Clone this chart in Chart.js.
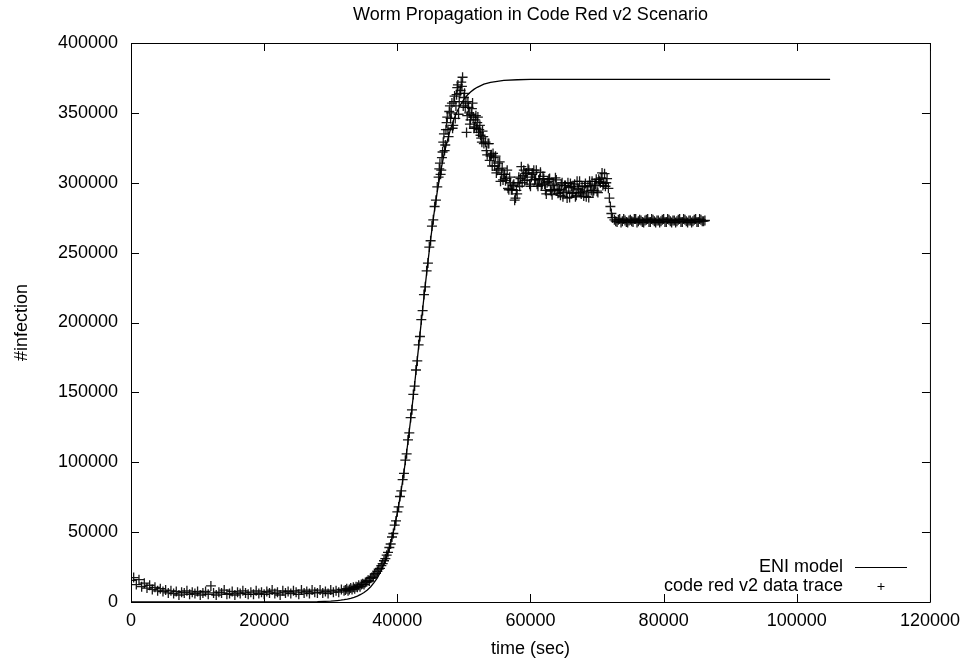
<!DOCTYPE html>
<html>
<head>
<meta charset="utf-8">
<title>Worm Propagation in Code Red v2 Scenario</title>
<script src="https://cdn.jsdelivr.net/npm/chart.js@4.4.1/dist/chart.umd.min.js"></script>
<style>
  html, body { margin: 0; padding: 0; background: #fff; }
  #wrap { width: 968px; height: 662px; }
</style>
</head>
<body>
<div id="wrap"><canvas id="chart" width="968" height="662"></canvas></div>
<script>
const chartTitle = "Worm Propagation in Code Red v2 Scenario";
const xTitle = "time (sec)";
const yTitle = "#infection";
const modelLabel = "ENI model";
const traceLabel = "code red v2 data trace";

const xTicks = [0, 20000, 40000, 60000, 80000, 100000, 120000];
const yTicks = [0, 50000, 100000, 150000, 200000, 250000, 300000, 350000, 400000];

// ENI model curve
const modelTime = [
  0, 5000, 10000, 15000, 20000, 25000, 28000, 30000, 30500, 31000, 31500,
  32000, 32500, 33000, 33500, 34000, 34500, 35000, 35500, 36000, 36500,
  37000, 37500, 38000, 38500, 39000, 39500, 40000, 40500, 41000, 41500,
  42000, 42500, 43000, 43500, 44000, 44500, 45000, 45500, 46000, 46500,
  47000, 47500, 48000, 48500, 49000, 49500, 50000, 50500, 51000, 51500,
  52000, 53000, 54000, 55000, 56000, 58000, 60000, 65000, 105000
];
const modelCount = [
  0, 0, 0, 0, 0, 60, 240, 630, 800, 1020, 1290,
  1640, 2090, 2650, 3360, 4260, 5400, 6830, 8640, 10900, 13800,
  17300, 21800, 27200, 34000, 42100, 52000, 63700, 77400, 93100, 110900,
  130500, 151500, 173600, 196000, 218100, 239400, 259400, 277500, 293600, 307800,
  319900, 330000, 338500, 345500, 351200, 355900, 359600, 362600, 364900, 366800,
  368300, 370500, 371800, 372600, 373200, 373700, 373900, 374000, 374000
];

// code red v2 trace: quiet phase, outbreak, peak, decay, flat tail
const traceTime = [
  0, 400, 800, 1200, 1600, 2000, 2400, 2800, 3200, 3600, 4000, 4400, 4800, 5200,
  5600, 6000, 6400, 6800, 7200, 7600, 8000, 8400, 8800, 9200, 9600, 10000, 10400,
  10800, 11200, 11600, 12000, 12400, 12800, 13200, 13600, 14000, 14400, 14800,
  15200, 15600, 16000, 16400, 16800, 17200, 17600, 18000, 18400, 18800, 19200,
  19600, 20000, 20400, 20800, 21200, 21600, 22000, 22400, 22800, 23200, 23600,
  24000, 24400, 24800, 25200, 25600, 26000, 26400, 26800, 27200, 27600, 28000,
  28400, 28800, 29200, 29600, 30000, 30400, 30800, 31200, 31600, 32000,
  32200, 32400, 32600, 32800, 33000, 33200, 33400, 33600, 33800, 34000, 34200,
  34400, 34600, 34800, 35000, 35200, 35400, 35600, 35800, 36000, 36200, 36400,
  36600, 36800, 37000, 37200, 37400, 37600, 37800, 38000, 38200, 38400, 38600,
  38800, 39000, 39200, 39400, 39600, 39800, 40000, 40200, 40400, 40600, 40800,
  41000, 41200, 41400, 41600, 41800, 42000, 42200, 42400, 42600, 42800, 43000,
  43200, 43400, 43600, 43800, 44000, 44200, 44400, 44600, 44800, 45000, 45200,
  45400, 45600, 45800, 46000,
  46200, 46400, 46600, 46800, 47000, 47200, 47400, 47600, 47800, 48000, 48200,
  48400, 48600, 48800, 49000, 49200, 49400, 49600, 49800, 50000, 50200, 50400,
  50600, 50800, 51000, 51200, 51400, 51600, 51800, 52000, 52200, 52400, 52600,
  52800, 53000,
  53250, 53500, 53750, 54000, 54250, 54500, 54750, 55000, 55250, 55500, 55750,
  56000, 56250, 56500, 56750, 57000, 57250, 57500, 57750, 58000, 58250, 58500,
  58750, 59000, 59250, 59500, 59750, 60000, 60250, 60500, 60750, 61000, 61250,
  61500, 61750, 62000, 62250, 62500, 62750, 63000, 63250, 63500, 63750, 64000,
  64250, 64500, 64750, 65000, 65250, 65500, 65750, 66000, 66250, 66500, 66750,
  67000, 67250, 67500, 67750, 68000, 68250, 68500, 68750, 69000, 69250, 69500,
  69750, 70000, 70250, 70500, 70750, 71000, 71250, 71500,
  71700, 71850, 72000, 72150, 72300,
  72600, 73000, 73400, 73800, 74200, 74600, 75000, 75400, 75800, 76200, 76600,
  77000, 77400, 77800, 78200, 78600, 79000, 79400, 79800, 80200, 80600, 81000,
  81400, 81800, 82200, 82600, 83000, 83400, 83800, 84200, 84600, 85000, 85400,
  85800, 86200
];
const traceCount = [
  15500, 17500, 12500, 16000, 11000, 13500, 10000, 12000, 9000, 10500, 8000, 9500, 7500, 8500,
  6500, 8000, 6000, 7500, 5000, 7000, 6500, 8000, 5500, 7000, 6000, 7500, 5000,
  6500, 7500, 5500, 11500, 6500, 5000, 7000, 6500, 8500, 5500, 6000,
  7500, 5000, 7000, 6000, 8000, 6500, 5500, 7000, 5500, 8000, 6000,
  7000, 5500, 7500, 6500, 8500, 6000, 7000, 5000, 8000, 6500, 7500,
  6000, 8000, 7000, 5500, 8500, 6500, 7500, 6000, 8500, 7000, 6500,
  8500, 6500, 7500, 6000, 8500, 7000, 8000, 7000, 9000, 8000,
  8500, 9500, 8000, 9000, 10000, 9000, 10500, 9500, 11000, 10500, 12000,
  11000, 12500, 13000, 12500, 14000, 14500, 15500, 15000, 17000, 17500, 18500,
  20000, 20500, 22000, 23500, 24000, 26000, 27500, 29500, 31000, 33500, 35500,
  39000, 41500, 46500, 49000, 55000, 58000, 64500, 68000, 75500, 79500, 87500,
  92000, 101500, 106000, 116000, 121000, 132000, 137500, 148500, 154500, 166000, 172500,
  184000, 190000, 202000, 208500, 220000, 225500, 237000, 242500, 254000, 258500, 269000,
  273500, 283000, 287500, 297000,
  304000, 314000, 309000, 322000, 335000, 327000, 343000, 338000, 351000, 346000, 357000,
  341000, 362000, 355000, 368000, 349000, 364000, 372000, 375500, 361000, 354000, 336000,
  358000, 350000, 345000, 353000, 347000, 340000, 348000, 343000, 336000, 341000, 332000,
  337000, 328000,
  329000, 320000, 328000, 319000, 312000, 318000, 319000, 309000, 310000, 301000, 310500,
  306000, 301500, 309000, 295000, 300000, 295000, 299000, 289000, 292000, 304000, 303000,
  300000, 309000, 306500, 302000, 309000, 297500, 306000, 309000, 302500, 299000, 302000,
  307500, 299000, 303000, 294500, 300000, 302500, 295000, 291500, 299000, 303500, 294500,
  295500, 291000, 300000, 293000, 298000, 289000, 296500, 299500, 292500, 297000, 290000,
  301000, 295000, 293000, 297500, 290500, 299500, 294000, 289500, 298000, 301000, 294500,
  299000, 294000, 302500, 300000, 307000, 299500, 297500, 303000,
  296000, 289000, 283000, 278000, 275000,
  273500, 272000, 274000, 272500, 273000, 271500, 273500, 272000, 274000, 272500, 273000,
  271500, 273500, 272000, 274000, 272500, 273000, 271500, 273500, 272000, 274000, 272500,
  273000, 271500, 273500, 272000, 274000, 272500, 273000, 271500, 273500, 272000, 274000,
  272500, 273000
];

// extra samples in between, where the trace is dense (peak, decay, tail)
const extraTime = [
  46300, 46500, 46700, 46900, 47100, 47300, 47500, 47700, 47900, 48100, 48300,
  48500, 48700, 48900, 49100, 49300, 49500, 49700, 49900, 50100, 50300, 50500,
  50700, 50900, 51100, 51300, 51500, 51700, 51900, 52100, 52300, 52500, 52700,
  52900,
  53375, 53625, 53875, 54125, 54375, 54625, 54875, 55125, 55375, 55625, 55875,
  56125, 56375, 56625, 56875, 57125, 57375, 57625, 57875, 58125, 58375, 58625,
  58875, 59125, 59375, 59625, 59875, 60125, 60375, 60625, 60875, 61125, 61375,
  61625, 61875, 62125, 62375, 62625, 62875, 63125, 63375, 63625, 63875, 64125,
  64375, 64625, 64875, 65125, 65375, 65625, 65875, 66125, 66375, 66625, 66875,
  67125, 67375, 67625, 67875, 68125, 68375, 68625, 68875, 69125, 69375, 69625,
  69875, 70125, 70375, 70625, 70875, 71125, 71375,
  72800, 73200, 73600, 74000, 74400, 74800, 75200, 75600, 76000, 76400, 76800,
  77200, 77600, 78000, 78400, 78800, 79200, 79600, 80000, 80400, 80800, 81200,
  81600, 82000, 82400, 82800, 83200, 83600, 84000, 84400, 84800, 85200, 85600,
  86000
];
const extraCount = [
  310000, 306000, 318000, 329000, 323000, 338000, 347000, 333000, 355000, 350000, 339000,
  358000, 346000, 363000, 370000, 358000, 366000, 369000, 355000, 364000, 357000, 348000,
  354000, 342000, 349000, 357000, 339000, 345000, 339000, 347000, 338000, 334000, 329000,
  333000,
  323000, 328000, 316000, 320000, 321000, 312000, 307000, 314000, 315000, 306000, 302000,
  306000, 303000, 296000, 304000, 295000, 298000, 287500, 294500, 300000, 297500, 311500,
  305000, 301500, 307000, 310000, 299000, 304000, 307000, 302000, 309000, 297500, 303000,
  298000, 304500, 299000, 292000, 301000, 303000, 294000, 298000, 295000, 302000, 292500,
  295000, 299000, 290000, 298000, 294000, 300000, 289500, 297500, 293000, 299000, 291000,
  296000, 301000, 292000, 293500, 297500, 290000, 297000, 301000, 294500, 293000, 298000,
  302500, 293000, 301000, 303500, 298000, 306500, 300000,
  272500, 273500, 271500, 274000, 272000, 273000, 272500, 274000, 271500, 273500, 272000,
  273000, 274000, 272000, 273500, 271500, 273000, 272500, 274000, 272000, 273500, 271500,
  273000, 272500, 274000, 272000, 273500, 271500, 273000, 272500, 274000, 272000, 273500,
  272500
];

const FONT = "'Liberation Sans', Arial, Helvetica, sans-serif";
const FONT_SIZE = 18;
const TICK_LEN = 8;

// gnuplot style frame: full box, inward ticks on all four sides,
// title, axis titles and the legend in the lower right corner
const gnuplotFrame = {
  id: "gnuplotFrame",
  afterDraw(chart) {
    const ctx = chart.ctx;
    const area = chart.chartArea;
    const xs = chart.scales.x;
    const ys = chart.scales.y;
    ctx.save();
    ctx.strokeStyle = "#000";
    ctx.lineWidth = 1;
    ctx.beginPath();
    ctx.rect(area.left + 0.5, area.top + 0.5, area.right - area.left, area.bottom - area.top);
    ctx.stroke();

    ctx.beginPath();
    xTicks.forEach(v => {
      const px = Math.round(xs.getPixelForValue(v)) + 0.5;
      ctx.moveTo(px, area.bottom);
      ctx.lineTo(px, area.bottom - TICK_LEN);
      ctx.moveTo(px, area.top);
      ctx.lineTo(px, area.top + TICK_LEN);
    });
    yTicks.forEach(v => {
      const py = Math.round(ys.getPixelForValue(v)) + 0.5;
      ctx.moveTo(area.left, py);
      ctx.lineTo(area.left + TICK_LEN, py);
      ctx.moveTo(area.right, py);
      ctx.lineTo(area.right - TICK_LEN, py);
    });
    ctx.stroke();

    ctx.fillStyle = "#000";
    ctx.font = FONT_SIZE + "px " + FONT;
    ctx.textBaseline = "middle";
    ctx.textAlign = "center";
    const midX = (area.left + area.right) / 2;
    ctx.fillText(chartTitle, midX, 15);
    ctx.fillText(xTitle, midX, 649);

    ctx.save();
    ctx.translate(22, (area.top + area.bottom) / 2);
    ctx.rotate(-Math.PI / 2);
    ctx.fillText(yTitle, 0, 0);
    ctx.restore();

    // legend
    const ds = chart.data.datasets;
    ctx.textAlign = "right";
    ctx.fillText(ds[0].label, 843, 567);
    ctx.fillText(ds[1].label, 843, 586);
    ctx.beginPath();
    ctx.moveTo(855, 567.5);
    ctx.lineTo(907, 567.5);
    ctx.moveTo(877.5, 586.5);
    ctx.lineTo(884.5, 586.5);
    ctx.moveTo(881, 583);
    ctx.lineTo(881, 590);
    ctx.stroke();
    ctx.restore();
  }
};

const modelData = modelTime.map((t, i) => ({ x: t, y: modelCount[i] }));
const traceData = traceTime.map((t, i) => ({ x: t, y: traceCount[i] }))
  .concat(extraTime.map((t, i) => ({ x: t, y: extraCount[i] })));

const canvas = document.querySelector("#chart");
const chart = new Chart(canvas.getContext("2d"), {
  type: "scatter",
  data: {
    datasets: [
      {
        label: modelLabel,
        data: modelData,
        showLine: true,
        borderColor: "#000",
        borderWidth: 1.3,
        pointRadius: 0,
        tension: 0,
        order: 2,
      },
      {
        label: traceLabel,
        data: traceData,
        showLine: false,
        pointStyle: "cross",
        pointRadius: 5,
        pointBorderWidth: 1.3,
        borderColor: "rgba(0,0,0,0.9)",
        backgroundColor: "rgba(0,0,0,0.9)",
        order: 1,
      },
    ],
  },
  plugins: [gnuplotFrame],
  options: {
    responsive: false,
    animation: false,
    devicePixelRatio: 1,
    layout: { padding: { left: 0, right: 38, top: 43, bottom: 0 } },
    plugins: {
      legend: { display: false },
      title: { display: false },
      tooltip: { enabled: false },
    },
    scales: {
      x: {
        type: "linear",
        min: 0,
        max: 120000,
        afterBuildTicks: scale => { scale.ticks = xTicks.map(v => ({ value: v })); },
        afterFit: scale => { scale.height = 60; },
        grid: { display: false, drawTicks: false },
        border: { display: false },
        ticks: {
          padding: 8,
          color: "#000",
          font: { family: FONT, size: FONT_SIZE },
          maxRotation: 0,
          callback: v => String(v),
        },
      },
      y: {
        type: "linear",
        min: 0,
        max: 400000,
        afterBuildTicks: scale => { scale.ticks = yTicks.map(v => ({ value: v })); },
        afterFit: scale => { scale.width = 131; },
        grid: { display: false, drawTicks: false },
        border: { display: false },
        ticks: {
          padding: 13,
          color: "#000",
          font: { family: FONT, size: FONT_SIZE },
          callback: v => String(v),
        },
      },
    },
  },
});
</script>
</body>
</html>
